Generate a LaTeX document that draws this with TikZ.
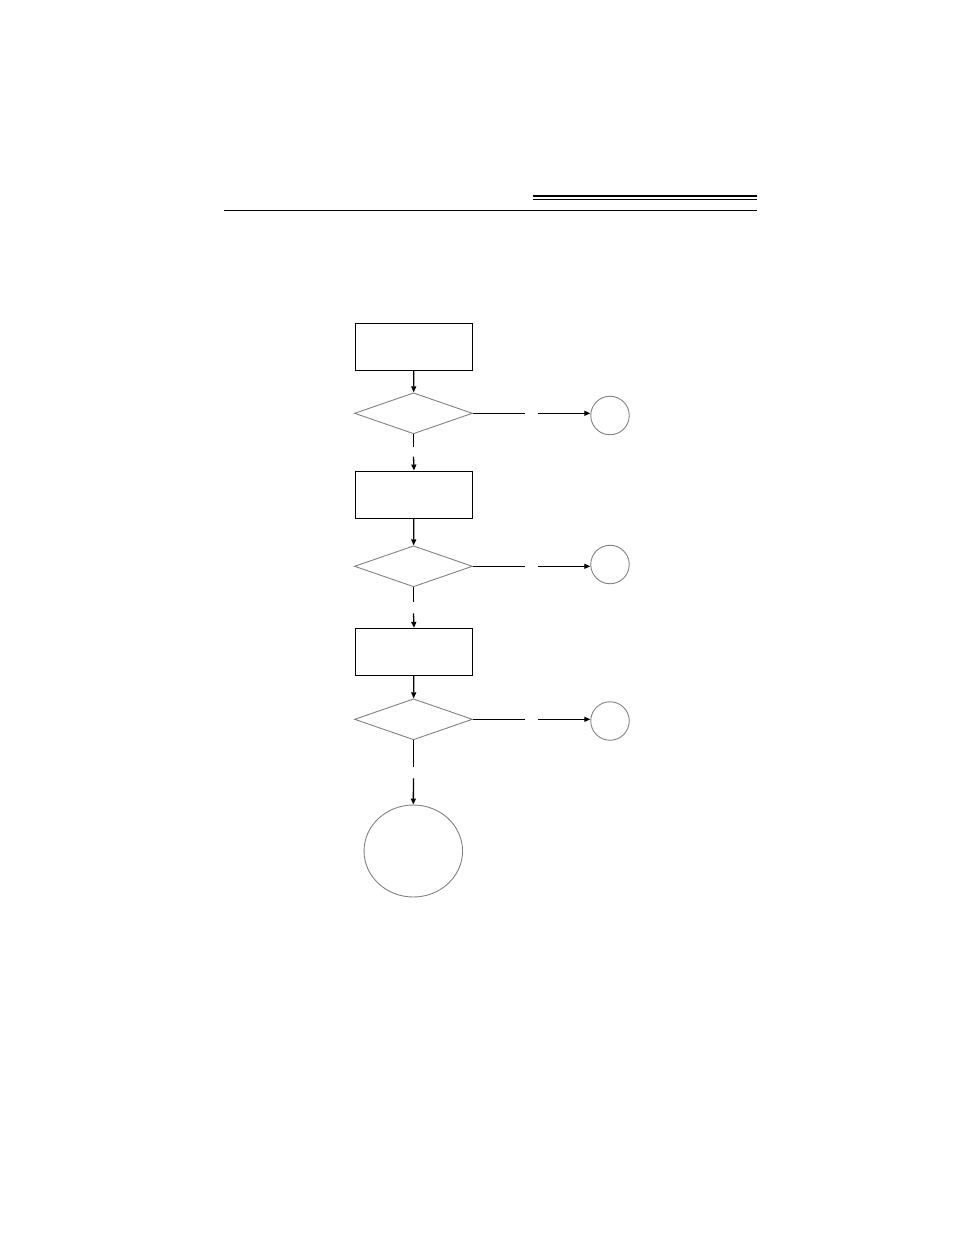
\documentclass[tikz,border=0pt]{standalone}
\usepackage{tikz}
\usetikzlibrary{shapes.geometric,arrows.meta}
\usepackage{xcolor}

\tikzset{
  stepbox/.style={draw=black, line width=1.3pt, minimum width=117pt, minimum height=47pt, inner sep=0pt},
  testbox/.style={diamond, draw=gray, line width=0.9pt, minimum width=118pt, minimum height=41pt, inner sep=0pt},
  exitdot/.style={circle, draw=gray, line width=0.9pt, minimum size=38.5pt, inner sep=0pt},
  enddot/.style={ellipse, draw=gray, line width=0.9pt, minimum width=98.5pt, minimum height=92pt, inner sep=0pt},
  flow/.style={line width=1.3pt, -{Triangle[length=6pt,width=5pt]}},
  flowpart/.style={line width=1.3pt}
}

\begin{document}
\begin{tikzpicture} [x=1pt, y=-1pt] %checking chart
\useasboundingbox (0,0) rectangle (954,1235);

	%page header rules
\coordinate (rulel) at (224,210.5);
\coordinate (ruler) at (757,210.5);
\coordinate (dbltopl) at (532.5,195.8);
\coordinate (dbltopr) at (757,195.8);
\coordinate (dblbotl) at (532.5,199.5);
\coordinate (dblbotr) at (757,199.5);
\draw [line width=1.2pt] (rulel) -- (ruler);
\draw [line width=1.4pt] (dbltopl) -- (dbltopr);
\draw [line width=1.4pt] (dblbotl) -- (dblbotr);

	%boxes and tests
\node [stepbox] (stepa) at (414,347) {};
\node [testbox] (testa) at (413.5,413.3) {};
\node [exitdot] (exita) at (610,415.5) {};

\node [stepbox] (stepb) at (414,494.7) {};
\node [testbox] (testb) at (413.5,566.3) {};
\node [exitdot] (exitb) at (610,564.5) {};

\node [stepbox] (stepc) at (414,652) {};
\node [testbox] (testc) at (413.5,719.3) {};
\node [exitdot] (exitc) at (610,721) {};

\node [enddot] (done) at (413.3,851) {};

	%coordinates for the broken ends of the lines
\coordinate (gapa1) at (413.5,446.7);
\coordinate (gapa2) at (413.5,456.7);
\coordinate (gapb1) at (413.5,601.7);
\coordinate (gapb2) at (413.5,613.3);
\coordinate (gapc1) at (413.5,766.7);
\coordinate (gapc2) at (413.5,778.3);
\coordinate (sidea1) at (525,413.3);
\coordinate (sidea2) at (538.3,413.3);
\coordinate (sideb1) at (525,566.3);
\coordinate (sideb2) at (538.3,566.3);
\coordinate (sidec1) at (525,719.3);
\coordinate (sidec2) at (538.3,719.3);
	%end of coordinate code

\draw [flow] (stepa) -- (testa);
\draw [flow] (stepb) -- (testb);
\draw [flow] (stepc) -- (testc);

\draw [flowpart] (testa.south) -- (gapa1);
\draw [flow] (gapa2) -- (stepb.north);
\draw [flowpart] (testb.south) -- (gapb1);
\draw [flow] (gapb2) -- (stepc.north);
\draw [flowpart] (testc.south) -- (gapc1);
\draw [flow] (gapc2) -- (done.north);

\draw [flowpart] (testa.east) -- (sidea1);
\draw [flow] (sidea2) -- (exita.west |- sidea2);
\draw [flowpart] (testb.east) -- (sideb1);
\draw [flow] (sideb2) -- (exitb.west |- sideb2);
\draw [flowpart] (testc.east) -- (sidec1);
\draw [flow] (sidec2) -- (exitc.west |- sidec2);

\end{tikzpicture}
\end{document}
